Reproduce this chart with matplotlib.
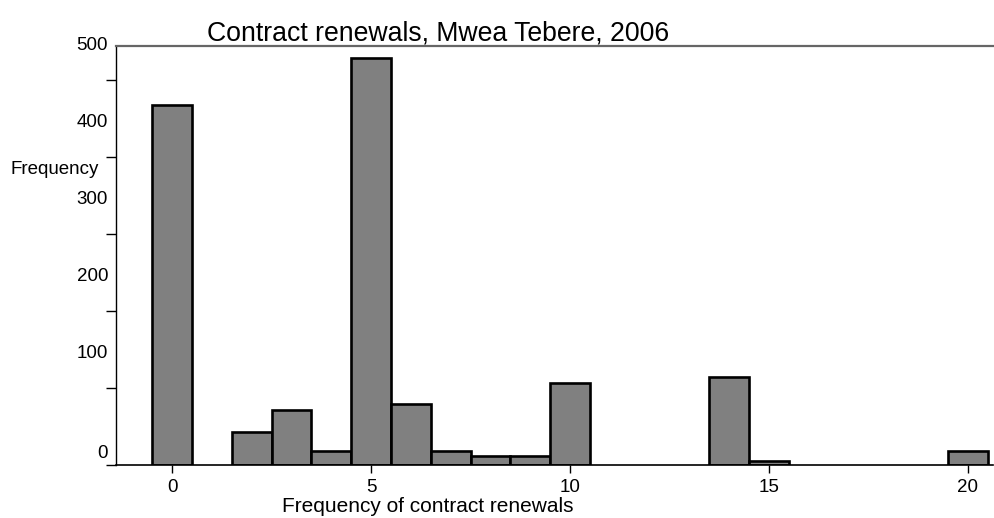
import matplotlib
matplotlib.use('Agg')
import matplotlib.pyplot as plt
import matplotlib.transforms as mtransforms

plt.rcParams['font.family'] = ['Liberation Sans', 'DejaVu Sans']

# renewals count -> frequency
renewals = [0, 2, 3, 4, 5, 6, 7, 8, 9, 10, 14, 15, 20]
freq = [468, 43, 71, 18, 528, 79, 18, 12, 12, 107, 114, 5, 18]
yticks = [0, 100, 200, 300, 400, 500]
xticks = [0, 5, 10, 15, 20]

fig = plt.figure(figsize=(9.94, 5.18), dpi=100)
ax = fig.add_axes([116/994, 53/518, 877/994, 419/518])

ax.bar(renewals, freq, width=1.0, color='#808080', edgecolor='black', linewidth=1.9)

ax.set_xlim(-1.41, 20.63)
ax.set_ylim(0, 544)

ax.spines['right'].set_visible(False)
ax.spines['top'].set_color('#666666')
ax.spines['top'].set_linewidth(1.6)
ax.spines['bottom'].set_linewidth(1.2)
ax.spines['left'].set_linewidth(1.0)

ax.set_xticks(xticks)
ax.set_xticklabels([str(v) for v in xticks], fontsize=13.5)
ax.tick_params(axis='x', length=6, width=1, pad=4)

ax.set_yticks(yticks)
ax.set_yticklabels([])
ax.tick_params(axis='y', length=7.2, width=1)

# y labels sit above their ticks, as in the original
for v in yticks:
    dy = 12 if v == 0 else 34
    tr = mtransforms.offset_copy(ax.get_yaxis_transform(), fig=fig, x=-8, y=dy, units='dots')
    ax.text(0, v, str(v), transform=tr, ha='right', va='center', fontsize=13.5)

fig.text(99/994, 1 - 170/518, 'Frequency', ha='right', va='center', fontsize=13.5)
fig.text(428/994, 1 - 512/518, 'Frequency of contract renewals', ha='center', va='baseline', fontsize=15)
fig.text(438/994, 1 - 40/518, 'Contract renewals, Mwea Tebere, 2006', ha='center', va='baseline', fontsize=19.2)

fig.savefig('out.png', dpi=100)
